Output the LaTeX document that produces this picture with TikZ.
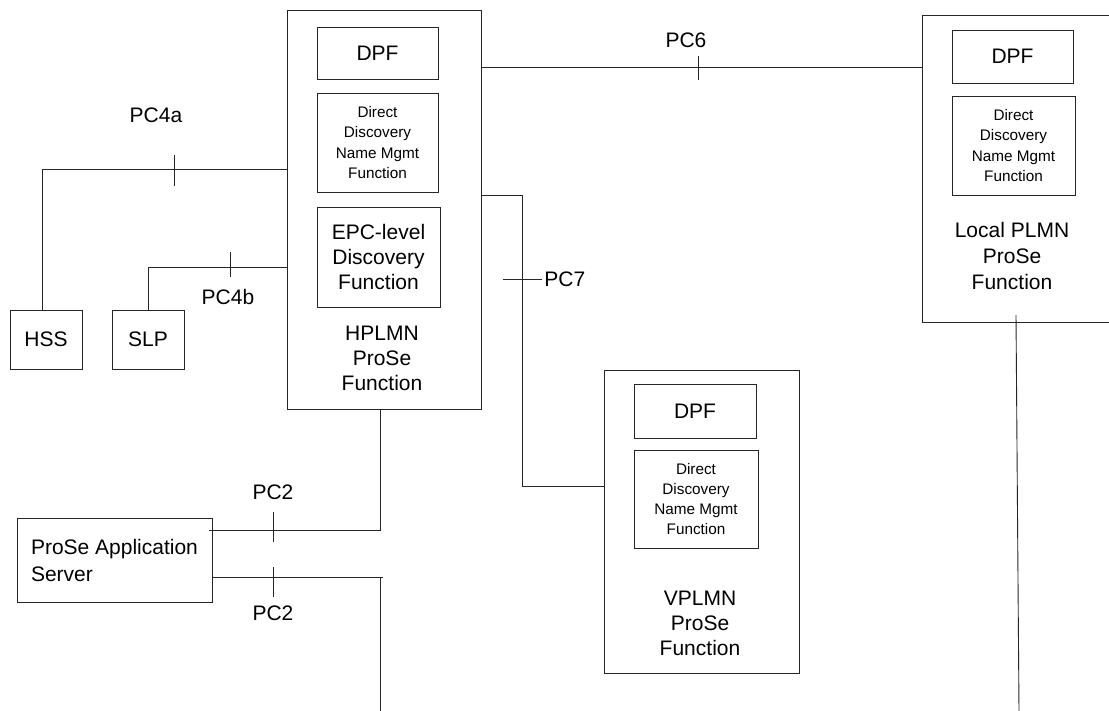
\documentclass[tikz,border=0pt]{standalone}
\usepackage{fontspec}
\setmainfont{Liberation Sans}
\begin{document}
\begin{tikzpicture}[x=1pt,y=-1pt,line width=0.9pt,
  box/.style={draw=black!85, inner sep=0pt},
  big/.style={font=\fontsize{21}{25}\selectfont, align=center, inner sep=0pt},
  small/.style={font=\fontsize{15.3}{20.3}\selectfont, align=center, inner sep=0pt},
  lbl/.style={font=\fontsize{21}{25}\selectfont, inner sep=0pt},
  conn/.style={draw=black!85}]
\useasboundingbox (0,0) rectangle (1109,711);
\clip (0,0) rectangle (1109,711);
\fill[white] (0,0) rectangle (1109,711);

% HPLMN ProSe Function
\node[box, minimum width=194pt, minimum height=399pt] (H) at (384,209.5) {};
\node[box, big, minimum width=121pt, minimum height=52pt] (Hdpf) at (377.5,53) {DPF};
\node[box, small, minimum width=121pt, minimum height=99pt] (Hddn) at (377.5,142.5) {Direct\\Discovery\\Name Mgmt\\Function};
\node[box, big, minimum width=123pt, minimum height=100pt] (Hepc) at (378.5,257) {EPC-level\\Discovery\\Function};
\node[big] (Hlab) at (382,358) {HPLMN\\ProSe\\Function};

% Local PLMN ProSe Function
\node[box, minimum width=200pt, minimum height=307pt] (L) at (1022,168.5) {};
\node[box, big, minimum width=121pt, minimum height=53pt] (Ldpf) at (1012.5,56.5) {DPF};
\node[box, small, minimum width=123pt, minimum height=99pt] (Lddn) at (1013.5,145.5) {Direct\\Discovery\\Name Mgmt\\Function};
\node[big, font=\fontsize{21}{26}\selectfont] (Llab) at (1012,256) {Local PLMN\\ProSe\\Function};

% VPLMN ProSe Function
\node[box, minimum width=195pt, minimum height=303pt] (V) at (701.5,521.5) {};
\node[box, big, minimum width=122pt, minimum height=54pt] (Vdpf) at (695,411) {DPF};
\node[box, small, minimum width=124pt, minimum height=98pt] (Vddn) at (696,499) {Direct\\Discovery\\Name Mgmt\\Function};
\node[big] (Vlab) at (700,623) {VPLMN\\ProSe\\Function};

% HSS, SLP, AS
\node[box, big, minimum width=72pt, minimum height=59pt] (HSS) at (46,339.5) {HSS};
\node[box, big, minimum width=72pt, minimum height=59pt] (SLP) at (148,339.5) {SLP};
\node[box, big, align=left, font=\fontsize{21}{27}\selectfont, minimum width=195pt, minimum height=84pt] (AS) at (114.5,560) {ProSe Application\\Server};

% PC6
\draw[conn] (H.east |- 0,67) -- (L.west |- 0,67);
\draw[conn] (698,56) -- (698,80);
\node[lbl] (pc6) at (686,40) {PC6};

% PC4a
\draw[conn] (H.west |- 0,169) -- (42,169) -- (42,0 |- HSS.north);
\draw[conn] (174,155) -- (174,186);
\node[lbl] (pc4a) at (156,115) {PC4a};

% PC4b
\draw[conn] (H.west |- 0,267) -- (148,267) -- (SLP.north);
\draw[conn] (230,252) -- (230,277);
\node[lbl] (pc4b) at (228,297) {PC4b};

% PC7
\draw[conn] (H.east |- 0,195) -- (522,195) -- (522,486) -- (V.west |- 0,486);
\draw[conn] (503,279) -- (542,279);
\node[lbl, anchor=west] (pc7) at (544,279) {PC7};

% PC2 (upper)
\draw[conn] (380,0 |- H.south) -- (380,530) -- (209,530);
\draw[conn] (273,512) -- (273,542);
\node[lbl] (pc2a) at (273,492) {PC2};

% PC2 (lower)
\draw[conn] (AS.east |- 0,577) -- (383,577);
\draw[conn] (380,577) -- (380,711);
\draw[conn] (273,567) -- (273,597);
\node[lbl] (pc2b) at (273,613) {PC2};

% Local PLMN downward line
\draw[conn] (1016,315) -- (1019,711);
\end{tikzpicture}
\end{document}
